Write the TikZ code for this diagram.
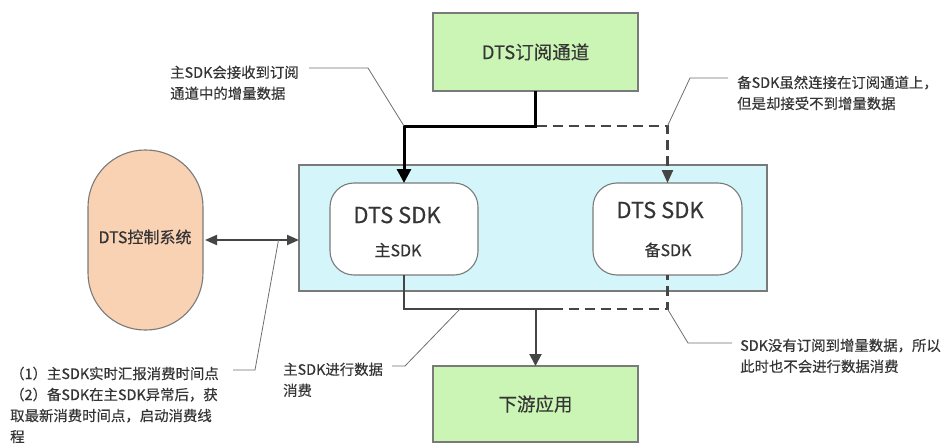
\documentclass[tikz,border=0pt]{standalone}
\usepackage{fontspec}
\setmainfont{Noto Sans CJK SC}[FakeBold=0.35]
\usetikzlibrary{arrows.meta}
\definecolor{boxgreen}{HTML}{CBF5B4}
\definecolor{boxcyan}{HTML}{D4F6FA}
\definecolor{boxpeach}{HTML}{F9D1B3}
\definecolor{edgegray}{HTML}{7A7A7A}
\definecolor{linegray}{HTML}{454545}
\definecolor{leadgray}{HTML}{6E6E6E}
\definecolor{textgray}{HTML}{353535}
\begin{document}
\begin{tikzpicture}[x=1pt,y=-1pt,
  basebox/.style={draw=edgegray, line width=1.1pt, inner sep=0pt, outer sep=0pt},
  greenbox/.style={basebox, fill=boxgreen, minimum width=205pt, font=\fontsize{18.5}{22}\selectfont, text=textgray},
  sdkbox/.style={basebox, fill=white, rounded corners=24pt, minimum width=148pt, minimum height=92pt},
  note/.style={anchor=north west, inner sep=0pt, align=left, text=textgray, font=\fontsize{14.4}{21}\selectfont},
  sdktitle/.style={inner sep=0pt, text=textgray, font=\fontsize{22}{26}\selectfont},
  sdksub/.style={inner sep=0pt, text=textgray, font=\fontsize{16}{20}\selectfont},
  thickarrow/.style={line width=3pt, black, -{Triangle[width=14pt,length=14pt]}},
  solidline/.style={line width=2pt, linegray},
  dashline/.style={line width=2.2pt, linegray, dash pattern=on 10pt off 6pt},
  leader/.style={line width=0.8pt, leadgray}
]
\useasboundingbox (0,0) rectangle (943,444);

% boxes
\node[greenbox, minimum height=78pt] (chan) at (535.5,52) {DTS订阅通道};
\node[basebox, fill=boxcyan, minimum width=468pt, minimum height=126pt] (cont) at (533,228) {};
\node[sdkbox] (main) at (404,229) {};
\node[sdkbox, minimum width=149pt] (bak) at (667.5,229) {};
\node[basebox, fill=boxpeach, rounded corners=57pt, minimum width=115pt, minimum height=180pt] (ctrl) at (145.5,240) {};
\node[greenbox, minimum height=76pt] (down) at (535.5,404) {下游应用};

% texts inside
\node[sdktitle] (mainT) at (397,215) {DTS SDK};
\node[sdksub] (mainS) at (398,250) {主SDK};
\node[sdktitle] (bakT) at (660,210) {DTS SDK};
\node[sdksub] (bakS) at (668,250) {备SDK};
\node[inner sep=0pt, text=textgray, font=\fontsize{16}{20}\selectfont] (ctrlT) at (145,237) {DTS控制系统};

% connectors
\coordinate (j1) at (535.5,126);
\coordinate (j2) at (535.5,309);
\coordinate (j3) at (553,309);
\draw[thickarrow] (chan.south) -- (j1) -| (main.north);
\draw[dashline, -{Triangle[width=11pt,length=13pt]}] ([xshift=1.5pt]j1) -| (bak.north);
\draw[solidline] (main.south) |- (j3);
\draw[dashline] (j3) -| (bak.south);
\draw[solidline, -{Triangle[width=12pt,length=12pt]}] (j2) -- (down.north);
\draw[solidline, {Triangle[width=10pt,length=12pt]}-{Triangle[width=10pt,length=12pt]}, shorten <=2pt] (ctrl.east) -- (ctrl.east -| cont.west);

% notes
\node[note] (n1) at (170,65.5) {主SDK会接收到订阅\\通道中的增量数据};
\node[note] (n2) at (737,75.5) {备SDK虽然连接在订阅通道上，\\但是却接受不到增量数据};
\node[note] (n3) at (10,366.5) {（1）主SDK实时汇报消费时间点\\（2）备SDK在主SDK异常后，获\\取最新消费时间点，启动消费线\\程};
\node[note] (n4) at (283,362.5) {主SDK进行数据\\消费};
\node[note] (n5) at (740,338.5) {SDK没有订阅到增量数据，所以\\此时也不会进行数据消费};

% leader lines
\coordinate (l1) at (309,68);
\coordinate (l2) at (728,78);
\coordinate (l3) at (233,370);
\coordinate (l4) at (392,366);
\coordinate (l5) at (732,343);
\draw[leader] (l1) -- (368,68) -- (main.north |- j1);
\draw[leader] (l2) -- (690,78) -- (bak.north |- j1);
\draw[leader] (l3) -- (255,370) -- (278.5,240);
\draw[leader] (l4) -- (405,366) -- (460,309);
\draw[leader] (l5) -- (688,343) -- (bak.south |- j2);
\end{tikzpicture}
\end{document}
